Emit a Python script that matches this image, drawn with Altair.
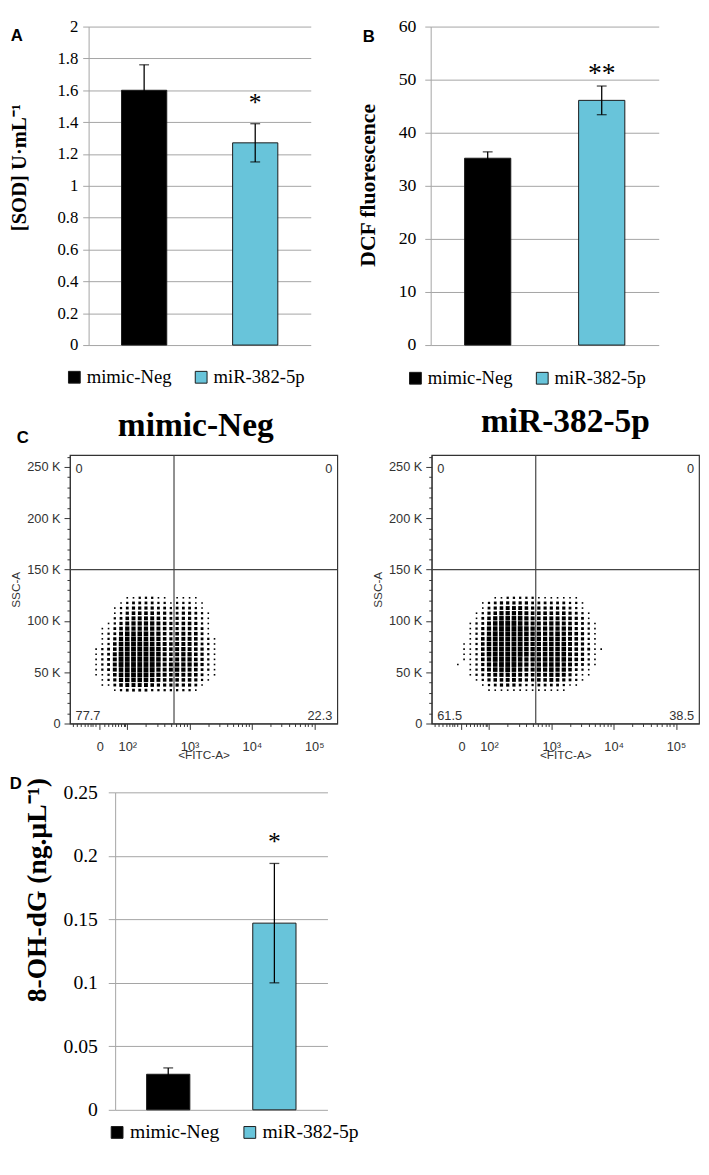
import altair as alt
import pandas as pd

SERIF = "Liberation Serif"
SANS = "Liberation Sans"

GROUPS = ["mimic-Neg", "miR-382-5p"]
BAR_COLORS = ["#000000", "#68C4DA"]

# ---- Panel A : SOD ----
SOD_MEAN = [1.60, 1.27]
SOD_ERR = [0.16, 0.12]
SOD_STAR = ["", "*"]
SOD_STAR_Y = [0.0, 1.543]
SOD_TICKS = [0, 0.2, 0.4, 0.6, 0.8, 1, 1.2, 1.4, 1.6, 1.8, 2]

# ---- Panel B : DCF ----
DCF_MEAN = [35.2, 46.1]
DCF_ERR = [1.2, 2.7]
DCF_STAR = ["", "**"]
DCF_STAR_Y = [0.0, 51.7]
DCF_TICKS = [0, 10, 20, 30, 40, 50, 60]

# ---- Panel D : 8-OH-dG ----
OHDG_MEAN = [0.028, 0.147]
OHDG_ERR = [0.005, 0.047]
OHDG_STAR = ["", "*"]
OHDG_STAR_Y = [0.0, 0.2136]
OHDG_TICKS = [0, 0.05, 0.1, 0.15, 0.2, 0.25]

# ---- Panel C : flow cytometry (logicle display units: 10^k -> k) ----
FITC_DOMAIN = [1.08, 5.37]
SSC_DOMAIN = [0, 261500]
FITC_MAJOR = [1.56, 2, 3, 4, 5]
FITC_MAJOR_LABELS = ["0", "10²", "10³", "10⁴", "10⁵"]
FITC_MINOR = [1.13, 1.19, 1.25, 1.31, 1.36, 1.41, 1.45, 1.49,
              1.63, 1.70, 1.76, 1.81, 1.86, 1.90, 1.94, 1.97,
              2.301, 2.477, 2.602, 2.699, 2.778, 2.845, 2.903, 2.954,
              3.301, 3.477, 3.602, 3.699, 3.778, 3.845, 3.903, 3.954,
              4.301, 4.477, 4.602, 4.699, 4.778, 4.845, 4.903, 4.954]
SSC_TICKS = [0, 10000, 20000, 30000, 40000, 50000, 60000, 70000, 80000, 90000,
             100000, 110000, 120000, 130000, 140000, 150000, 160000, 170000,
             180000, 190000, 200000, 210000, 220000, 230000, 240000, 250000, 260000]
GATE_FITC = 2.75
GATE_SSC = 150000

# density of events (0 = empty ... 9 = saturated)
# rows: SSC bins of 5K from 125K (top) downwards; columns: FITC bins of 0.1 from 1.45
FITC_BIN_LEFT = 1.45
FITC_BIN = 0.1
SSC_BIN_TOP = 125000
SSC_BIN = 5000

NEG_DENSITY = [
    "00000112221101111000",
    "00001233332212221100",
    "00012344443323332100",
    "00012455554433443210",
    "00023566665434443210",
    "00124677776544554210",
    "01135777776544554310",
    "01236888877545655310",
    "01247898887545665321",
    "01258999987656665321",
    "12358999998656765421",
    "12369999998656775421",
    "12369999998656775421",
    "12369999998667776421",
    "12368999997667765321",
    "11258999987656665311",
    "01247888876555554210",
    "01135666654444443100",
    "00012333322222221000",
]
MIR_DENSITY = [
    "000000112222211111110000",
    "000012344444333333221000",
    "000013456665444444321000",
    "000124577776555555432100",
    "000135788887656666543100",
    "001236899987666776543210",
    "001247899998767777643210",
    "001247999998777787654210",
    "001258999998777887654210",
    "011258999998778888654210",
    "011258999998778888654311",
    "011258999998778888654210",
    "011257999987778888654210",
    "101247899987678887643210",
    "001246889876677877532100",
    "001235677765566776421100",
    "000124556654455654321000",
    "000012344432233332110000",
    "000001111111111111000000",
]
NEG_QUADRANTS = ["0", "0", "77.7", "22.3"]
MIR_QUADRANTS = ["0", "0", "61.5", "38.5"]


def bar_panel(mean, err, star, star_y, ticks, fmt, ytitle, *, width, height, bar_size,
              title_x, title_y, title_size, label_size, label_pad, tick_len,
              legend_x, legend_y, legend_size, letter, letter_x, letter_y,
              star_size, star_dy):
    df = pd.DataFrame({
        "group": GROUPS,
        "mean": mean,
        "lo": [m - e for m, e in zip(mean, err)],
        "hi": [m + e for m, e in zip(mean, err)],
        "star": star,
        "star_y": star_y,
    })
    x = alt.X("group:N", sort=GROUPS,
              scale=alt.Scale(domain=GROUPS, paddingInner=0, paddingOuter=0),
              axis=None)
    ys = alt.Scale(domain=[ticks[0], ticks[-1]], nice=False, zero=True)
    yaxis = alt.Axis(values=ticks, format=fmt, grid=True, gridColor="#A3A3A3", gridWidth=1,
                     domainColor="#A3A3A3", tickColor="#A3A3A3", tickSize=tick_len,
                     labelFont=SERIF, labelFontSize=label_size, labelColor="black",
                     labelPadding=label_pad, labelOverlap=False,
                     title=ytitle, titleFont=SERIF, titleFontSize=title_size,
                     titleFontWeight="bold", titleColor="black", titleX=title_x,
                     titleY=title_y, titleBaseline="middle", titleAlign="center")
    base = alt.Chart(df)
    bars = base.mark_bar(size=bar_size, stroke="#1a1a1a", strokeWidth=1).encode(
        x=x,
        y=alt.Y("mean:Q", scale=ys, axis=yaxis),
        color=alt.Color("group:N",
                        scale=alt.Scale(domain=GROUPS, range=BAR_COLORS),
                        legend=alt.Legend(orient="none", legendX=legend_x, legendY=legend_y,
                                          direction="horizontal", title=None,
                                          symbolType="square", symbolSize=144,
                                          symbolStrokeColor="#1a1a1a", symbolStrokeWidth=1,
                                          labelFont=SERIF, labelFontSize=legend_size,
                                          labelColor="black", columnPadding=20,
                                          labelOffset=3, padding=0)),
    )
    rule = base.mark_rule(color="black", strokeWidth=1.3).encode(
        x=x, y=alt.Y("lo:Q", scale=ys, axis=yaxis), y2="hi:Q")
    cap_lo = base.mark_tick(color="black", size=10, thickness=1.3).encode(
        x=x, y=alt.Y("lo:Q", scale=ys, axis=yaxis))
    cap_hi = base.mark_tick(color="black", size=10, thickness=1.3).encode(
        x=x, y=alt.Y("hi:Q", scale=ys, axis=yaxis))
    stars = base.transform_filter("datum.star != ''").mark_text(
        font=SERIF, fontSize=star_size, baseline="middle", dy=star_dy, color="black"
    ).encode(x=x, y=alt.Y("star_y:Q", scale=ys, axis=yaxis), text="star:N")
    letter_layer = alt.Chart(pd.DataFrame({"t": [letter]})).mark_text(
        font=SANS, fontSize=17, fontWeight="bold", color="black",
        align="center", baseline="middle"
    ).encode(x=alt.value(letter_x), y=alt.value(letter_y), text="t:N")
    # invisible copy of a legend label so that the layout reserves the legend row
    legend_space = alt.Chart(pd.DataFrame({"t": [GROUPS[0]]})).mark_text(
        font=SERIF, fontSize=legend_size, opacity=0, align="left", baseline="middle"
    ).encode(x=alt.value(legend_x + 20), y=alt.value(legend_y + 10), text="t:N")
    return alt.layer(bars, rule, cap_lo, cap_hi, stars, letter_layer, legend_space).properties(
        width=width, height=height)


def flow_panel(title, title_dx, title_dy, dens_rows, quads, letter=None):
    cells = []
    for i, row in enumerate(dens_rows):
        ssc_hi = SSC_BIN_TOP - i * SSC_BIN
        for j, ch in enumerate(row):
            if ch != "0":
                cells.append({"fitc": FITC_BIN_LEFT + (j + 0.5) * FITC_BIN,
                              "ssc": ssc_hi - SSC_BIN / 2, "dens": int(ch)})
    cdf = pd.DataFrame(cells)
    xs = alt.Scale(domain=FITC_DOMAIN, nice=False, zero=False)
    ys = alt.Scale(domain=SSC_DOMAIN, nice=False, zero=False)
    x_expr = " : ".join(f"datum.value == {v} ? '{l}'"
                        for v, l in zip(FITC_MAJOR, FITC_MAJOR_LABELS)) + " : ''"
    major_list = ",".join(str(v) for v in FITC_MAJOR)
    xaxis = alt.Axis(values=sorted(FITC_MAJOR + FITC_MINOR), labelExpr=x_expr,
                     tickSize={"condition": {"test": f"indexof([{major_list}], datum.value) < 0",
                                             "value": 3}, "value": 6},
                     tickColor="#333333", domainColor="#333333", grid=False,
                     labelFont=SANS, labelFontSize=13, labelColor="#333333",
                     labelPadding=11, labelOverlap=False, labelFlush=False,
                     title="<FITC-A>", titleFont=SANS, titleFontSize=12,
                     titleFontWeight="normal", titleColor="#333333",
                     titleY=32, titleBaseline="middle")
    yaxis = alt.Axis(values=SSC_TICKS,
                     labelExpr="datum.value % 50000 === 0 ? (datum.value === 0 ? '0' : (datum.value / 1000) + ' K') : ''",
                     tickSize={"condition": {"test": "datum.value % 50000 !== 0", "value": 3},
                               "value": 6},
                     tickColor="#333333", domainColor="#333333", grid=False,
                     labelFont=SANS, labelFontSize=13, labelColor="#333333",
                     labelPadding=4, labelOverlap=False, labelFlush=False,
                     title="SSC-A", titleFont=SANS, titleFontSize=12,
                     titleFontWeight="normal", titleColor="#333333",
                     titleX=-55, titleBaseline="middle", titleAlign="center")
    dots = alt.Chart(cdf).mark_square(color="black", opacity=1, filled=True).encode(
        x=alt.X("fitc:Q", scale=xs, axis=xaxis),
        y=alt.Y("ssc:Q", scale=ys, axis=yaxis),
        size=alt.Size("dens:Q", scale=alt.Scale(domain=[0, 9], range=[0, 24]), legend=None),
    )
    vgate = alt.Chart(pd.DataFrame({"v": [GATE_FITC]})).mark_rule(
        color="#444444", strokeWidth=1.2).encode(x=alt.X("v:Q", scale=xs, axis=xaxis))
    hgate = alt.Chart(pd.DataFrame({"v": [GATE_SSC]})).mark_rule(
        color="#444444", strokeWidth=1.2).encode(y=alt.Y("v:Q", scale=ys, axis=yaxis))
    qdf_l = pd.DataFrame({"x": [1.17, 1.17], "y": [248000, 7500], "t": [quads[0], quads[2]]})
    qdf_r = pd.DataFrame({"x": [5.29, 5.29], "y": [248000, 7500], "t": [quads[1], quads[3]]})
    ql = alt.Chart(qdf_l).mark_text(font=SANS, fontSize=13, color="#333333",
                                    align="left", baseline="middle").encode(
        x=alt.X("x:Q", scale=xs, axis=xaxis), y=alt.Y("y:Q", scale=ys, axis=yaxis), text="t:N")
    qr = alt.Chart(qdf_r).mark_text(font=SANS, fontSize=13, color="#333333",
                                    align="right", baseline="middle").encode(
        x=alt.X("x:Q", scale=xs, axis=xaxis), y=alt.Y("y:Q", scale=ys, axis=yaxis), text="t:N")
    layers = [dots, vgate, hgate, ql, qr]
    if letter:
        layers.append(alt.Chart(pd.DataFrame({"t": [letter]})).mark_text(
            font=SANS, fontSize=17, fontWeight="bold", color="black",
            align="center", baseline="middle"
        ).encode(x=alt.value(-48), y=alt.value(-17), text="t:N"))
    return alt.layer(*layers).properties(
        width=272, height=273,
        view=alt.ViewBackground(stroke="#333333", strokeWidth=1.2),
        title=alt.TitleParams(text=title, font=SERIF, fontSize=34, fontWeight="bold",
                              color="black", anchor="middle", frame="group",
                              offset=12, baseline="top", dx=title_dx, dy=title_dy),
    )


def spacer():
    # zero-extent first column so that every row starts at the left page edge
    return alt.Chart(pd.DataFrame({"s": [0]})).mark_rule(strokeOpacity=0).encode(
        x=alt.value(0), y=alt.value(0), y2=alt.value(1)).properties(width=1, height=1)


panel_a = bar_panel(SOD_MEAN, SOD_ERR, SOD_STAR, SOD_STAR_Y, SOD_TICKS, ".1~f", "[SOD] U·mL⁻¹",
                    width=226, height=324, bar_size=46, title_x=-70, title_y=143,
                    title_size=21, label_size=17, label_pad=5, tick_len=6,
                    legend_x=-24, legend_y=347, legend_size=19,
                    letter="A", letter_x=-73, letter_y=10, star_size=26, star_dy=4)
panel_b = bar_panel(DCF_MEAN, DCF_ERR, DCF_STAR, DCF_STAR_Y, DCF_TICKS, "d", "DCF fluorescence",
                    width=232, height=324, bar_size=47, title_x=-64, title_y=161,
                    title_size=22, label_size=18, label_pad=9, tick_len=6,
                    legend_x=-25, legend_y=348, legend_size=19,
                    letter="B", letter_x=-63, letter_y=11, star_size=28, star_dy=4)
panel_d = bar_panel(OHDG_MEAN, OHDG_ERR, OHDG_STAR, OHDG_STAR_Y, OHDG_TICKS, ".2~f",
                    "8-OH-dG (ng.µL⁻¹)",
                    width=216, height=323, bar_size=44, title_x=-79, title_y=99,
                    title_size=28, label_size=20, label_pad=11, tick_len=7,
                    legend_x=-8, legend_y=336, legend_size=20,
                    letter="D", letter_x=-101, letter_y=-8, star_size=26, star_dy=4)

c_neg = flow_panel("mimic-Neg", -8, 25, NEG_DENSITY, NEG_QUADRANTS, letter="C")
c_mir = flow_panel("miR-382-5p", 0, 0, MIR_DENSITY, MIR_QUADRANTS)

ab = alt.hconcat(panel_a, panel_b, spacing=47).resolve_scale(
    color="independent").resolve_legend(color="independent")
cc = alt.hconcat(c_neg, c_mir, spacing=32)

row1 = alt.hconcat(spacer(), ab, spacing=0).resolve_scale(
    color="independent").resolve_legend(color="independent")
row2 = alt.hconcat(spacer(), cc, spacing=0)
row3 = alt.hconcat(spacer(), panel_d, spacing=0).resolve_scale(
    color="independent").resolve_legend(color="independent")

top = alt.vconcat(row1, row2, spacing=16).resolve_scale(
    color="independent").resolve_legend(color="independent")
chart = alt.vconcat(top, row3, spacing=14).resolve_scale(
    color="independent").resolve_legend(color="independent").properties(
    padding=0).configure_view(strokeWidth=0)

chart.save("out.html", embed_options={"renderer": "svg", "actions": False})
